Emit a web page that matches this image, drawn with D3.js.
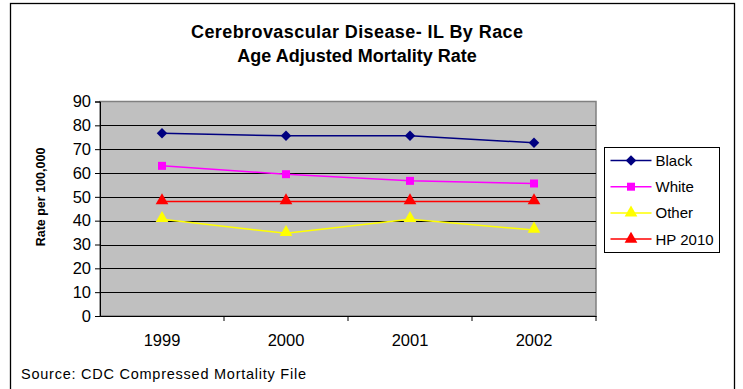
<!DOCTYPE html>
<html lang="en">
<head>
<meta charset="UTF-8">
<title>Cerebrovascular Disease</title>
<script src="https://cdn.jsdelivr.net/npm/d3@7"></script>
<style>
  body { margin: 0; background: #fff; }
  text { font-family: "Liberation Sans", Arial, sans-serif; }
</style>
</head>
<body>
<script>
// data
var years = ["1999", "2000", "2001", "2002"];
var black = [76.7, 75.6, 75.6, 72.7];
var white = [63.0, 59.5, 56.7, 55.6];
var other = [40.6, 34.7, 40.6, 36.1];
var hp2010 = [48, 48, 48, 48];
var yTicks = [0, 10, 20, 30, 40, 50, 60, 70, 80, 90];

var series = [
  { name: "Black", values: black, color: "#000080", marker: "diamond" },
  { name: "White", values: white, color: "#FF00FF", marker: "square" },
  { name: "Other", values: other, color: "#FFFF00", marker: "triangle" },
  { name: "HP 2010", values: hp2010, color: "#FF0000", marker: "triangle" }
];

var width = 743, height = 389;
var plot = { left: 100, top: 101.5, right: 596, bottom: 316 };

var svg = d3.select("body").append("svg").attr("width", width).attr("height", height);

// outer chart border
svg.append("rect").attr("x", 10.5).attr("y", 3.5).attr("width", 724).attr("height", 400)
  .attr("fill", "#fff").attr("stroke", "#000").attr("stroke-width", 1.3);

// title
svg.append("text").attr("x", 357).attr("y", 38).attr("text-anchor", "middle")
  .attr("font-size", 18).attr("font-weight", "bold").attr("textLength", 332)
  .text("Cerebrovascular Disease- IL By Race");
svg.append("text").attr("x", 357).attr("y", 62).attr("text-anchor", "middle")
  .attr("font-size", 18).attr("font-weight", "bold")
  .text("Age Adjusted Mortality Rate");

var xScale = d3.scaleBand().domain(years).range([plot.left, plot.right]);
var yScale = d3.scaleLinear().domain([0, 90]).range([plot.bottom, plot.top]);

// plot background
svg.append("rect").attr("x", plot.left).attr("y", plot.top)
  .attr("width", plot.right - plot.left).attr("height", plot.bottom - plot.top)
  .attr("fill", "#C0C0C0").attr("stroke", "#808080").attr("stroke-width", 1.5);

// gridlines
svg.append("g").selectAll("line").data(yTicks.slice(1, -1)).enter().append("line")
  .attr("x1", plot.left).attr("x2", plot.right)
  .attr("y1", function (d) { return Math.round(yScale(d)) + 0.5; })
  .attr("y2", function (d) { return Math.round(yScale(d)) + 0.5; })
  .attr("stroke", "#000").attr("stroke-width", 1);

// y axis
var yAxis = d3.axisLeft(yScale).tickValues(yTicks).tickSize(5).tickPadding(4);
var gy = svg.append("g").attr("transform", "translate(" + plot.left + ",0)").call(yAxis);
gy.select(".domain").attr("stroke", "#000");
gy.selectAll("text").attr("font-size", 16.5).attr("fill", "#000")
  .style("font-family", "Liberation Sans, Arial, sans-serif");

// x axis with ticks between categories
var xAxis = d3.axisBottom(xScale).tickSize(0).tickPadding(18);
var gx = svg.append("g").attr("transform", "translate(0," + plot.bottom + ")").call(xAxis);
gx.select(".domain").attr("stroke", "#000");
gx.selectAll("text").attr("font-size", 16.5).attr("fill", "#000")
  .style("font-family", "Liberation Sans, Arial, sans-serif");
gx.selectAll(".sep").data(years.slice(1).concat(["end"])).enter().append("line")
  .attr("class", "sep")
  .attr("x1", function (d, i) { return plot.left + xScale.step() * (i + 1); })
  .attr("x2", function (d, i) { return plot.left + xScale.step() * (i + 1); })
  .attr("y1", 0).attr("y2", 5).attr("stroke", "#000");

// y label
svg.append("text").attr("transform", "translate(45,197) rotate(-90)")
  .attr("text-anchor", "middle").attr("font-size", 12.5).attr("font-weight", "bold")
  .text("Rate per 100,000");

function markerPath(type, size) {
  if (type === "diamond") return d3.symbol().type(d3.symbolDiamond2).size(size)();
  if (type === "square") return d3.symbol().type(d3.symbolSquare).size(size)();
  return d3.symbol().type(d3.symbolTriangle).size(size)();
}
var markerSize = { diamond: 70, square: 64, triangle: 70 };

var line = d3.line()
  .x(function (d, i) { return xScale(years[i]) + xScale.bandwidth() / 2; })
  .y(function (d) { return yScale(d); });

// draw order: HP 2010 behind, then others
var drawOrder = [series[3], series[2], series[1], series[0]];
drawOrder.forEach(function (s) {
  svg.append("path").datum(s.values).attr("d", line)
    .attr("fill", "none").attr("stroke", s.color).attr("stroke-width", 1.5);
  svg.append("g").selectAll("path").data(s.values).enter().append("path")
    .attr("d", markerPath(s.marker, markerSize[s.marker]))
    .attr("transform", function (d, i) {
      var dy = s.marker === "triangle" ? -1 : 0;
      return "translate(" + (xScale(years[i]) + xScale.bandwidth() / 2) + "," + (yScale(d) + dy) + ")";
    })
    .attr("fill", s.color);
});

// legend
var legend = svg.append("g").attr("transform", "translate(604.5,147.5)");
legend.append("rect").attr("width", 115).attr("height", 105)
  .attr("fill", "#fff").attr("stroke", "#000").attr("stroke-width", 1);
series.forEach(function (s, i) {
  var y = 13 + i * 26.2;
  var g = legend.append("g").attr("transform", "translate(0," + y + ")");
  g.append("line").attr("x1", 6).attr("x2", 47).attr("y1", 0).attr("y2", 0)
    .attr("stroke", s.color).attr("stroke-width", 1.5);
  g.append("path").attr("d", markerPath(s.marker, markerSize[s.marker]))
    .attr("transform", "translate(26.5,0)").attr("fill", s.color);
  g.append("text").attr("x", 51).attr("y", 5.5).attr("font-size", 15).text(s.name);
});

// source
svg.append("text").attr("x", 21).attr("y", 379).attr("font-size", 14.5)
  .attr("textLength", 285).text("Source: CDC Compressed Mortality File");
</script>
</body>
</html>
